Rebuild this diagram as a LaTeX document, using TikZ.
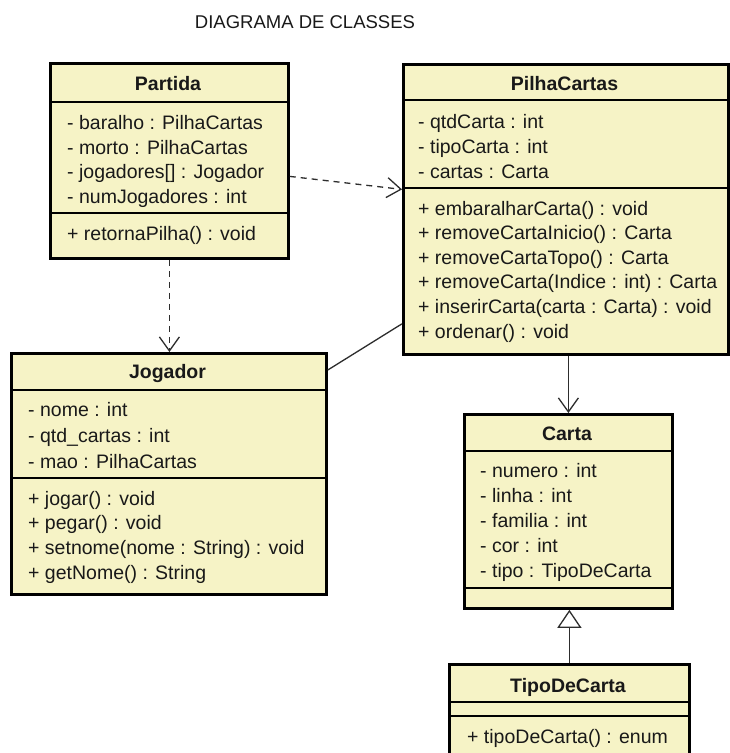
\documentclass[tikz,border=0pt]{standalone}
\usepackage{fontspec}
\setmainfont{Liberation Sans}
\usetikzlibrary{arrows.meta}
\definecolor{clsfill}{RGB}{246,243,198}
\definecolor{txtcol}{RGB}{25,25,25}
\definecolor{linecol}{RGB}{45,45,45}
\tikzset{
  cls/.style={draw=black, line width=2.8pt, fill=clsfill, anchor=north west, inner sep=0pt},
  divline/.style={draw=black, line width=1.4pt},
  txt/.style={anchor=base west, inner sep=0pt, text=txtcol, font=\fontsize{19.5}{23}\selectfont},
  hdr/.style={anchor=base, inner sep=0pt, text=txtcol, font=\fontsize{19.5}{23}\selectfont\bfseries},
  conn/.style={draw=linecol, line width=1.3pt},
  dep/.style={conn, dash pattern=on 6pt off 5pt, -{Straight Barb[length=14pt,width=20pt]}},
  nav/.style={conn, -{Straight Barb[length=14pt,width=20pt]}},
  gen/.style={conn, -{Triangle[open,length=18pt,width=24pt,fill=white]}}
}
\begin{document}
\begin{tikzpicture}[x=1pt,y=-1pt]
\useasboundingbox (0,0) rectangle (730,753);
\fill[white] (0,0) rectangle (730,753);

% title
\node[anchor=base, inner sep=0pt, text=txtcol, font=\fontsize{18.5}{22}\selectfont] (title) at (305,28) {DIAGRAMA DE CLASSES};

% Partida
\node[cls, minimum width=238pt, minimum height=195pt] (partida) at (49,62) {};
\draw[divline] ([yshift=-40pt]partida.north west) -- ([yshift=-40pt]partida.north east);
\draw[divline] ([yshift=-151pt]partida.north west) -- ([yshift=-151pt]partida.north east);
\node[hdr] (partidaH) at (168,90) {Partida};
\node[txt] (pa1) at (67,129) {- baralho : PilhaCartas};
\node[txt] (pa2) at (67,154) {- morto : PilhaCartas};
\node[txt] (pa3) at (67,178) {- jogadores[] : Jogador};
\node[txt] (pa4) at (67,203) {- numJogadores : int};
\node[txt] (pm1) at (67,240) {+ retornaPilha() : void};

% PilhaCartas
\node[cls, minimum width=325pt, minimum height=290pt] (pilha) at (402,63) {};
\draw[divline] ([yshift=-37pt]pilha.north west) -- ([yshift=-37pt]pilha.north east);
\draw[divline] ([yshift=-125pt]pilha.north west) -- ([yshift=-125pt]pilha.north east);
\node[hdr] (pilhaH) at (564.5,90) {PilhaCartas};
\node[txt] (pc1) at (418,128) {- qtdCarta : int};
\node[txt] (pc2) at (418,153) {- tipoCarta : int};
\node[txt] (pc3) at (418,178) {- cartas : Carta};
\node[txt] (pcm1) at (418,215) {+ embaralharCarta() : void};
\node[txt] (pcm2) at (418,239.6) {+ removeCartaInicio() : Carta};
\node[txt] (pcm3) at (418,264.2) {+ removeCartaTopo() : Carta};
\node[txt] (pcm4) at (418,288.8) {+ removeCarta(Indice : int) : Carta};
\node[txt] (pcm5) at (418,313.4) {+ inserirCarta(carta : Carta) : void};
\node[txt] (pcm6) at (418,338) {+ ordenar() : void};

% Jogador
\node[cls, minimum width=315pt, minimum height=241pt] (jogador) at (10,352) {};
\draw[divline] ([yshift=-38pt]jogador.north west) -- ([yshift=-38pt]jogador.north east);
\draw[divline] ([yshift=-126pt]jogador.north west) -- ([yshift=-126pt]jogador.north east);
\node[hdr] (jogadorH) at (167.5,378) {Jogador};
\node[txt] (jo1) at (28,416) {- nome : int};
\node[txt] (jo2) at (28,442) {- qtd\_cartas : int};
\node[txt] (jo3) at (28,468) {- mao : PilhaCartas};
\node[txt] (jm1) at (28,505) {+ jogar() : void};
\node[txt] (jm2) at (28,529) {+ pegar() : void};
\node[txt] (jm3) at (28,554) {+ setnome(nome : String) : void};
\node[txt] (jm4) at (28,579) {+ getNome() : String};

% Carta
\node[cls, minimum width=208pt, minimum height=194pt] (carta) at (463,413) {};
\draw[divline] ([yshift=-38pt]carta.north west) -- ([yshift=-38pt]carta.north east);
\draw[divline] ([yshift=-175pt]carta.north west) -- ([yshift=-175pt]carta.north east);
\node[hdr] (cartaH) at (567,440) {Carta};
\node[txt] (ca1) at (480,477) {- numero : int};
\node[txt] (ca2) at (480,502) {- linha : int};
\node[txt] (ca3) at (480,527) {- familia : int};
\node[txt] (ca4) at (480,552) {- cor : int};
\node[txt] (ca5) at (480,577) {- tipo : TipoDeCarta};

% TipoDeCarta
\node[cls, minimum width=240pt, minimum height=100pt] (tipo) at (448,663) {};
\draw[divline] ([yshift=-39pt]tipo.north west) -- ([yshift=-39pt]tipo.north east);
\draw[divline] ([yshift=-53pt]tipo.north west) -- ([yshift=-53pt]tipo.north east);
\node[hdr] (tipoH) at (568,692) {TipoDeCarta};
\node[txt] (tm1) at (467,743) {+ tipoDeCarta() : enum};

% connectors
\draw[dep] ([yshift=-15.5pt]partida.east) -- ([yshift=20pt]pilha.west);
\draw[dep] (partida.south) -- (partida.south |- jogador.north);
\draw[conn] ([yshift=-18pt]jogador.north east) -- ([yshift=32pt]pilha.south west);
\draw[nav] (pilha.south -| carta.north) -- (carta.north);
\draw[gen] (tipo.north) -- (carta.south -| tipo.north);
\end{tikzpicture}
\end{document}
